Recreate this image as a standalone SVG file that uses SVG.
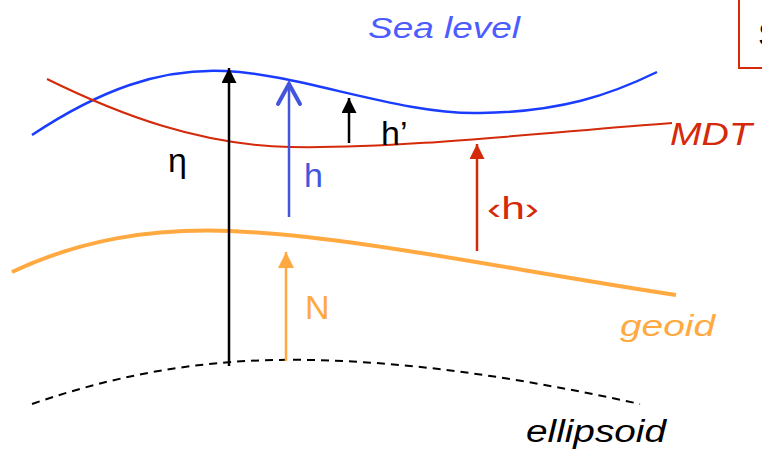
<svg xmlns="http://www.w3.org/2000/svg" width="762" height="456" viewBox="0 0 762 456">
<style>
  .lbl { font-family: "Comic Sans MS", "Liberation Sans", "DejaVu Sans", sans-serif; }
  .it { font-style: italic; }
  .curve { fill: none; }
</style>
<defs>
  <marker id="headBlack" viewBox="0 0 10 10" refX="10" refY="5" markerWidth="15" markerHeight="15" markerUnits="userSpaceOnUse" orient="auto">
    <path d="M0,0 L10,5 L0,10 z" fill="#000"/>
  </marker>
  <marker id="headRed" viewBox="0 0 10 10" refX="10" refY="5" markerWidth="15" markerHeight="15" markerUnits="userSpaceOnUse" orient="auto">
    <path d="M0,0 L10,5 L0,10 z" fill="#d42a0a"/>
  </marker>
  <marker id="headOrange" viewBox="0 0 10 10" refX="10" refY="5" markerWidth="16" markerHeight="16" markerUnits="userSpaceOnUse" orient="auto">
    <path d="M0,0 L10,5 L0,10 z" fill="#ffa940"/>
  </marker>
</defs>

<!-- partial box top right -->
<g id="box">
  <rect x="739" y="-10" width="40" height="78" fill="none" stroke="#d42a0a" stroke-width="2"/>
  <text class="lbl" x="758" y="46" font-size="34" fill="#000">S</text>
</g>

<!-- surfaces -->
<g id="sealevel">
  <path class="curve" d="M32,135 C100,90 160,68 225,71 C300,74 400,115 480,113 C560,112 610,95 657,72" stroke="#1a3cff" stroke-width="2.5"/>
  <text class="lbl it" x="368" y="38" font-size="30" fill="#4d5cff" textLength="152" lengthAdjust="spacingAndGlyphs">Sea level</text>
</g>
<g id="mdt">
  <path class="curve" d="M47,79 C120,115 200,145 290,147 C400,149 550,132 672,123" stroke="#d42a0a" stroke-width="2"/>
  <text class="lbl it" x="670" y="145" font-size="32" fill="#d42a0a" textLength="82" lengthAdjust="spacingAndGlyphs">MDT</text>
</g>
<g id="geoid">
  <path class="curve" d="M12,272 C80,240 150,228 230,231 C350,236 500,268 676,295" stroke="#ffa940" stroke-width="4"/>
  <text class="lbl it" x="620" y="336" font-size="30" fill="#ffa940" textLength="95" lengthAdjust="spacingAndGlyphs">geoid</text>
</g>
<g id="ellipsoid">
  <path class="curve" d="M32,404 C130,370 220,358 310,360 C420,362 530,380 640,404" stroke="#000" stroke-width="2" stroke-dasharray="8 6"/>
  <text class="lbl it" x="526" y="442" font-size="31" fill="#000" textLength="140" lengthAdjust="spacingAndGlyphs">ellipsoid</text>
</g>

<!-- arrows -->
<g id="connectors">
  <line x1="229" y1="366" x2="229" y2="68" stroke="#000" stroke-width="2.5" marker-end="url(#headBlack)"/>
  <line x1="289" y1="217" x2="289" y2="84" stroke="#4455dd" stroke-width="2.5"/>
  <polyline points="278,104 289,84 300,104" fill="none" stroke="#4455dd" stroke-width="4" stroke-linecap="round" stroke-linejoin="miter"/>
  <line x1="349" y1="143" x2="349" y2="98" stroke="#000" stroke-width="2.5" marker-end="url(#headBlack)"/>
  <line x1="477" y1="251" x2="477" y2="144" stroke="#d42a0a" stroke-width="2.5" marker-end="url(#headRed)"/>
  <line x1="286" y1="361" x2="286" y2="252" stroke="#ffa940" stroke-width="2.5" marker-end="url(#headOrange)"/>
</g>

<g id="labels">
  <text class="lbl" x="168" y="172" font-size="34" fill="#000">η</text>
  <text class="lbl" x="304" y="187" font-size="34" fill="#4455dd">h</text>
  <text class="lbl" x="381" y="145" font-size="34" fill="#000">h’</text>
  <text class="lbl" x="487" y="219" font-size="32" fill="#d42a0a" textLength="52" lengthAdjust="spacingAndGlyphs">‹h›</text>
  <text class="lbl" x="305" y="319" font-size="34" fill="#ffa940">N</text>
</g>
</svg>
